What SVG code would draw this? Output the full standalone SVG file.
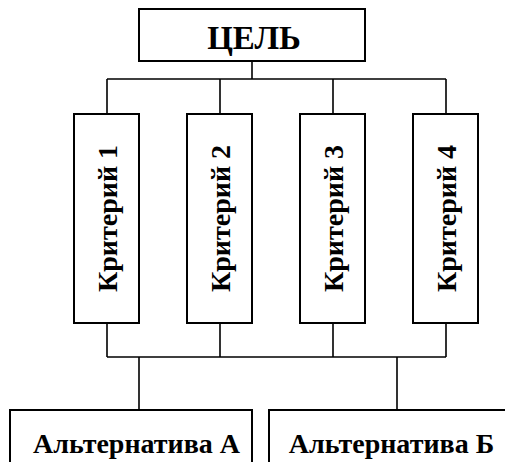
<svg xmlns="http://www.w3.org/2000/svg" width="505" height="462" viewBox="0 0 505 462">
<style>
.box{fill:#fff;stroke:#000;stroke-width:2}
.ln{fill:none;stroke:#000;stroke-width:1.6}
text{font-family:"Liberation Serif","Times New Roman",serif;font-weight:bold;fill:#000}
.t{font-size:28px}
</style>
<rect width="505" height="462" fill="#fff"/>
<g id="connectors">
<path class="ln" d="M252,61V79M107,79H446M107,79V114M220,79V114M333,79V114M446,79V114"/>
<path class="ln" d="M107,323V357M220,323V357M333,323V357M446,323V357M107,357H446M139,357V410M397,357V410"/>
</g>
<g id="goal">
<rect class="box" x="139" y="9" width="226" height="52"/>
<text x="254" y="49" text-anchor="middle" style="font-size:33px">ЦЕЛЬ</text>
</g>
<g id="crit1">
<rect class="box" x="74" y="114" width="65" height="209"/>
<text class="t" transform="translate(117,218.5) rotate(-90)" text-anchor="middle">Критерий 1</text>
</g>
<g id="crit2">
<rect class="box" x="187" y="114" width="65" height="209"/>
<text class="t" transform="translate(230,218.5) rotate(-90)" text-anchor="middle">Критерий 2</text>
</g>
<g id="crit3">
<rect class="box" x="300" y="114" width="65" height="209"/>
<text class="t" transform="translate(343,218.5) rotate(-90)" text-anchor="middle">Критерий 3</text>
</g>
<g id="crit4">
<rect class="box" x="413" y="114" width="65" height="209"/>
<text class="t" transform="translate(456,218.5) rotate(-90)" text-anchor="middle">Критерий 4</text>
</g>
<g id="altA">
<rect class="box" x="10" y="410" width="242" height="70"/>
<text class="t" x="136.5" y="453" text-anchor="middle">Альтернатива А</text>
</g>
<g id="altB">
<rect class="box" x="269" y="410" width="260" height="70"/>
<text class="t" x="391.5" y="453" text-anchor="middle">Альтернатива Б</text>
</g>
</svg>
